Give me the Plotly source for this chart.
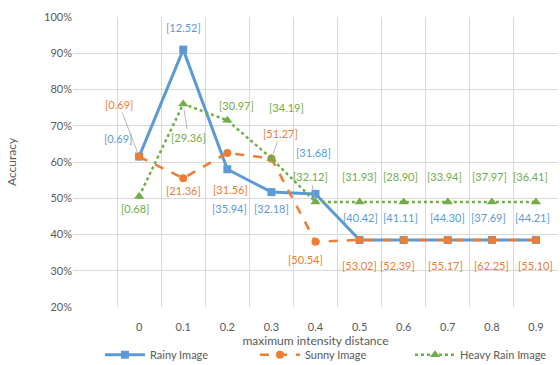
import plotly.graph_objects as go

categories = ["0", "0.1", "0.2", "0.3", "0.4", "0.5", "0.6", "0.7", "0.8", "0.9"]
axis_categories = [" "] + categories

rainy = [61.5, 91.0, 58.0, 51.7, 51.2, 38.5, 38.5, 38.5, 38.5, 38.5]
sunny = [61.5, 55.5, 62.5, 61.0, 38.0, 38.5, 38.5, 38.5, 38.5, 38.5]
heavy = [50.5, 76.0, 71.5, 61.0, 49.0, 49.0, 49.0, 49.0, 49.0, 49.0]

rainy_labels = ["[0.69]", "[12.52]", "[35.94]", "[32.18]", "[31.68]", "[40.42]", "[41.11]", "[44.30]", "[37.69]", "[44.21]"]
sunny_labels = ["[0.69]", "[21.36]", "[31.56]", "[51.27]", "[50.54]", "[53.02]", "[52.39]", "[55.17]", "[62.25]", "[55.10]"]
heavy_labels = ["[0.68]", "[29.36]", "[30.97]", "[34.19]", "[32.12]", "[31.93]", "[28.90]", "[33.94]", "[37.97]", "[36.41]"]

y_ticks = [20, 30, 40, 50, 60, 70, 80, 90, 100]
y_ticktext = [f"{v}%" for v in y_ticks]

BLUE = "#5B9BD5"
ORANGE = "#ED7D31"
GREEN = "#70AD47"
TXT = "#595959"
FONT = "Lato"

# label offsets (pixels) and leader-line flags
rainy_off = [(-21, -18), (0, -22), (2, 39), (0, 16), (-2, -41), (1, -22), (-3, -22), (0, -22), (-3, -22), (-3, -22)]
sunny_off = [(-20, -52), (0, 12), (3, 37), (9, -25), (-10, 18), (0, 26), (-6, 26), (-2, 26), (0, 26), (0, 26)]
heavy_off = [(-4, 12), (5, 33), (9, -15), (15, -51), (-5, -25), (0, -25), (-3, -25), (-3, -25), (-2, -25), (-5, -25)]
sunny_lead = [True, False, False, True, False, False, False, False, False, False]
heavy_lead = [False, True, False, False, True, False, False, False, False, False]
rainy_lead = [False] * 10

fig = go.Figure()
fig.add_trace(go.Scatter(
    x=categories, y=rainy, name="Rainy Image", mode="lines+markers",
    line=dict(color=BLUE, width=3),
    marker=dict(symbol="square", size=8, color=BLUE),
))
fig.add_trace(go.Scatter(
    x=categories, y=sunny, name="Sunny Image", mode="lines+markers",
    line=dict(color=ORANGE, width=2.5, dash="dash"),
    marker=dict(symbol="circle", size=8, color=ORANGE),
))
fig.add_trace(go.Scatter(
    x=categories, y=heavy, name="Heavy Rain Image", mode="lines+markers",
    line=dict(color=GREEN, width=2.5, dash="dot"),
    marker=dict(symbol="triangle-up", size=9, color=GREEN),
))

annotations = []
for vals, labs, offs, leads, col in [
    (rainy, rainy_labels, rainy_off, rainy_lead, BLUE),
    (sunny, sunny_labels, sunny_off, sunny_lead, ORANGE),
    (heavy, heavy_labels, heavy_off, heavy_lead, GREEN),
]:
    for c, v, t, (ax, ay), ld in zip(categories, vals, labs, offs, leads):
        annotations.append(dict(
            x=axis_categories.index(c), y=v, xref="x", yref="y", text=t,
            showarrow=True, ax=ax, ay=ay, arrowhead=0, arrowwidth=0.8,
            arrowcolor="#A6A6A6" if ld else "rgba(0,0,0,0)", standoff=5,
            font=dict(family=FONT, size=11, color=col),
        ))

fig.update_layout(
    width=560, height=365,
    margin=dict(l=73, r=2, t=17, b=58, autoexpand=False),
    paper_bgcolor="white", plot_bgcolor="white",
    font=dict(family=FONT, size=11, color=TXT),
    showlegend=True,
    legend=dict(orientation="h", x=0.535, xanchor="center", y=-0.165, yanchor="middle",
                font=dict(family=FONT, size=11, color=TXT), itemwidth=40,
                entrywidth=100, entrywidthmode="pixels",
                bgcolor="rgba(0,0,0,0)"),
    annotations=annotations,
    xaxis=dict(
        type="category", categoryorder="array", categoryarray=axis_categories,
        range=[-0.5, len(axis_categories) - 0.5], automargin=False,
        tickson="boundaries", showgrid=True, gridcolor="#D9D9D9", gridwidth=1,
        ticks="", showline=False, zeroline=False,
        tickfont=dict(family=FONT, size=11, color=TXT), ticklabelstandoff=12,
        title=dict(text="maximum intensity distance", standoff=0,
                   font=dict(family=FONT, size=12, color=TXT)),
    ),
    yaxis=dict(
        range=[20, 100], tickmode="array", tickvals=y_ticks, ticktext=y_ticktext,
        showgrid=True, gridcolor="#D9D9D9", gridwidth=1, automargin=False,
        zeroline=False, showline=False, ticks="",
        tickfont=dict(family=FONT, size=11, color=TXT),
        title=dict(text="Accuracy", standoff=24, font=dict(family=FONT, size=12, color=TXT)),
    ),
)

fig.write_html("out.html")
